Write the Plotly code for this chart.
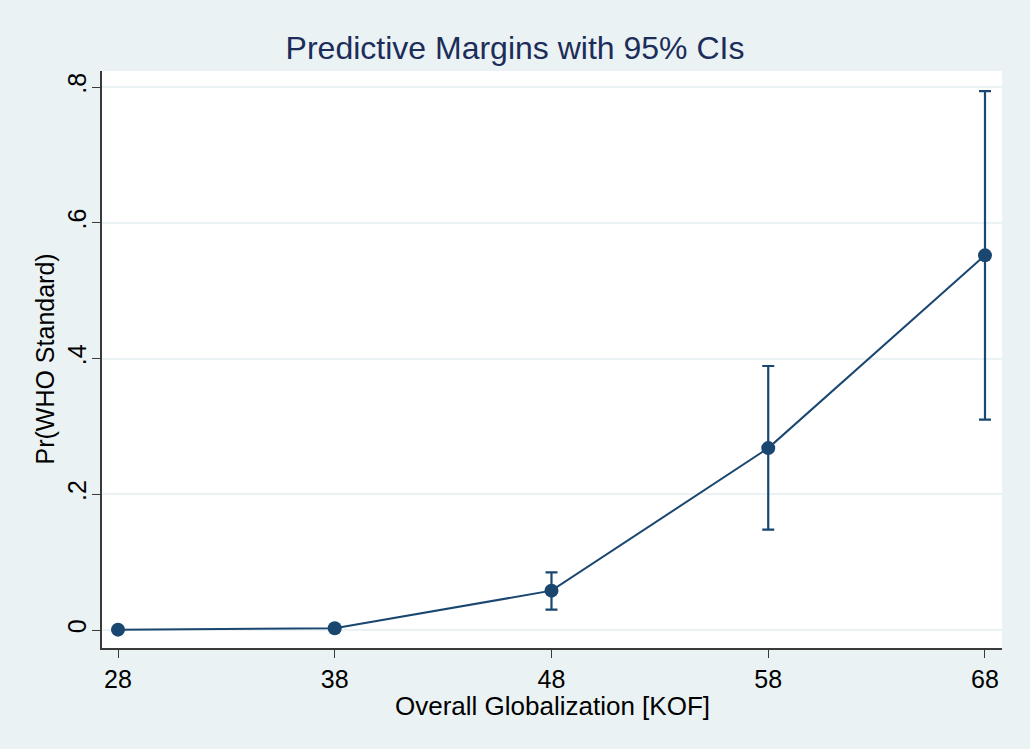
import plotly.graph_objects as go

# Data
kof = [28, 38, 48, 58, 68]
margin = [0.0005, 0.0025, 0.058, 0.268, 0.552]
ci_low = [0.0, 0.0005, 0.030, 0.148, 0.310]
ci_high = [0.001, 0.0045, 0.085, 0.389, 0.794]

x_ticks = [28, 38, 48, 58, 68]
y_ticks = [0, 0.2, 0.4, 0.6, 0.8]
y_tick_text = ["0", ".2", ".4", ".6", ".8"]

navy = "#1a476f"
bg = "#EAF2F3"
font = "Liberation Sans, Arial, sans-serif"

err_plus = [h - m for h, m in zip(ci_high, margin)]
err_minus = [m - l for m, l in zip(margin, ci_low)]

# plot area in pixels: l=102, r=28, t=71, b=101 -> 900 x 577
plot_w, plot_h = 900, 577

fig = go.Figure()
fig.add_trace(go.Scatter(
    x=kof, y=margin,
    mode="lines+markers",
    line=dict(color=navy, width=2),
    marker=dict(color=navy, size=14),
    error_y=dict(type="data", symmetric=False, array=err_plus, arrayminus=err_minus,
                 color=navy, thickness=2.2, width=6),
    showlegend=False,
))

fig.update_layout(
    width=1030, height=749,
    paper_bgcolor=bg, plot_bgcolor="white",
    margin=dict(l=102, r=28, t=71, b=101),
    title=dict(text="Predictive Margins with 95% CIs", x=0.5, xanchor="center",
               y=1 - 48/749, yanchor="middle",
               font=dict(family=font, size=32, color="#1C2D5A")),
    font=dict(family=font, color="black"),
    annotations=[
        dict(text="Overall Globalization [KOF]", xref="paper", yref="paper",
             x=0.5, y=-(706 - 648) / plot_h, xanchor="center", yanchor="middle",
             showarrow=False, font=dict(family=font, size=26, color="black")),
        dict(text="Pr(WHO Standard)", xref="paper", yref="paper",
             x=(44 - 102) / plot_w, y=0.5, xanchor="center", yanchor="middle",
             textangle=-90, showarrow=False, font=dict(family=font, size=25, color="black")),
    ],
)
fig.update_xaxes(
    range=[27.262, 68.785], tickvals=x_ticks, ticktext=[str(v) for v in x_ticks],
    showgrid=False, zeroline=False,
    showline=True, linecolor="#3a3a3a", linewidth=1.5,
    ticks="outside", ticklen=8, tickwidth=1.2, tickcolor="#3a3a3a",
    tickfont=dict(size=25, color="black"),
)
fig.update_yaxes(
    range=[-0.0265, 0.8236], tickvals=y_ticks, ticktext=y_tick_text, tickangle=-90,
    showgrid=True, gridcolor=bg, gridwidth=1.5, zeroline=False,
    showline=True, linecolor="#3a3a3a", linewidth=1.5,
    ticks="outside", ticklen=8, tickwidth=1.2, tickcolor="#3a3a3a",
    tickfont=dict(size=25, color="black"), ticklabelstandoff=-4,
)

fig.write_html("out.html", config={"displayModeBar": False},
               post_script="document.body.style.margin='0';document.body.style.overflow='hidden';")
